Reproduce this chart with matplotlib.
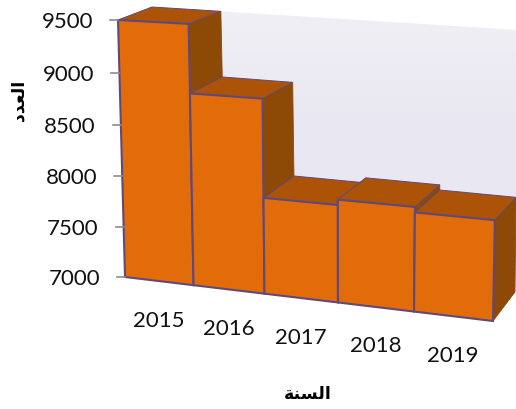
import numpy as np
import matplotlib
matplotlib.use("Agg")
import matplotlib.pyplot as plt
from matplotlib.patches import Polygon

years = ["2015", "2016", "2017", "2018", "2019"]
counts = [9500, 8850, 7920, 7970, 7920]
y_ticks = [7000, 7500, 8000, 8500, 9000, 9500]

# arabic labels, already shaped and in visual order since matplotlib has no text shaping
x_title = "\uFE94\uFEE8\uFEB4\uFEDF\uFE8D"  # alsana
y_title = "\uFEA9\uFEAA\uFECC\uFEDF\uFE8D"  # aladad

FACE = "#E36C0A"
TOP = "#AC5308"
SIDE = "#8C4A06"
EDGE = "#5F497A"
WALL = "#E9E7F1"
AXIS = "#8C8C8C"


def homography(src, dst):
    rows = []
    rhs = []
    for (x, y), (u, v) in zip(src, dst):
        rows.append([x, y, 1, 0, 0, 0, -u * x, -u * y])
        rows.append([0, 0, 0, x, y, 1, -v * x, -v * y])
        rhs += [u, v]
    return np.append(np.linalg.solve(np.array(rows, float), np.array(rhs, float)), 1).reshape(3, 3)


# plane corners in (category edge, value) space, scaled to keep the solve stable
n = len(years)
corners = [(0, 0), (n, 0), (0, 1), (n, 1)]
front = homography(corners, [(125, 278), (493, 322), (118, 21), (498, 42)])
back = homography(corners, [(159, 252), (515, 293), (152, 8), (518, 31)])


def apply(h, c, v):
    p = h @ np.array([c, (v - y_ticks[0]) / (y_ticks[-1] - y_ticks[0]), 1.0])
    return p[:2] / p[2]


def project(c, v, d=0):
    return (1 - d) * apply(front, c, v) + d * apply(back, c, v)


fig = plt.figure(figsize=(5.16, 4.10), dpi=100)
ax = fig.add_axes([0, 0, 1, 1])
ax.set_xlim(0, 516)
ax.set_ylim(410, 0)
ax.axis("off")

# back wall, fades out a bit towards the top
wall = Polygon([project(0, y_ticks[0], 1), project(n, y_ticks[0], 1),
                project(n, y_ticks[-1], 1), project(0, y_ticks[-1], 1)],
               closed=True, fc="none", ec="none")
ax.add_patch(wall)
grad = np.linspace(0, 1, 64).reshape(-1, 1)
im = ax.imshow(grad, extent=(150, 516, 250, 5), aspect="auto", zorder=1,
               cmap=matplotlib.colors.LinearSegmentedColormap.from_list("w", ["#F1F0F6", WALL, WALL]))
im.set_clip_path(wall)
ax.set_xlim(0, 516)
ax.set_ylim(410, 0)

# bars left to right so that each one sits in front of the previous side face
for i, v in enumerate(counts):
    base = y_ticks[0]
    fl_b, fr_b = project(i, base), project(i + 1, base)
    fl_t, fr_t = project(i, v), project(i + 1, v)
    bl_t, br_t = project(i, v, 1), project(i + 1, v, 1)
    br_b = project(i + 1, base, 1)
    ax.add_patch(Polygon([fr_b, br_b, br_t, fr_t], fc=SIDE, ec=SIDE, lw=0.6, zorder=2 + i))
    ax.add_patch(Polygon([fl_t, fr_t, br_t, bl_t], fc=TOP, ec=EDGE, lw=0.7, zorder=2 + i))
    ax.add_patch(Polygon([fl_b, fr_b, fr_t, fl_t], fc=FACE, ec=EDGE, lw=1.5, zorder=2 + i))

for t in y_ticks:
    px, py = project(0, t)
    ax.plot([px - 8, px], [py, py], color=AXIS, lw=1.2, zorder=9)
    ax.text(px - 25, py + 1, str(t), ha="right", va="center", fontsize=16, family="Lato", color="#111111")

for i, year in enumerate(years):
    px, py = project(i + 0.5, y_ticks[0])
    ax.text(px, py + 38.5, year, ha="center", va="center", fontsize=16, family="Lato", color="#111111")

ax.text(308, 394, x_title, ha="center", va="center", fontsize=12.5, fontweight="bold",
        family="DejaVu Sans", color="black")
ax.text(18, 100, y_title, ha="center", va="center", rotation=90, fontsize=12.5, fontweight="bold",
        family="DejaVu Sans", color="black")

fig.savefig("out.png", dpi=100)
